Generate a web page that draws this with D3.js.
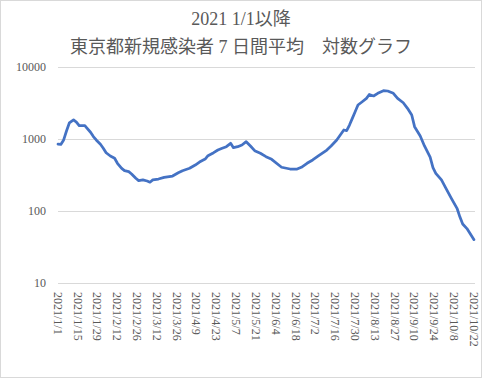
<!DOCTYPE html>
<html lang="ja">
<head>
<meta charset="UTF-8">
<script src="https://d3js.org/d3.v7.min.js"></script>
<style>
  body { margin: 0; background: #fff; }
  text { font-family: "Liberation Serif", "Noto Sans CJK JP", serif; fill: #595959; }
</style>
</head>
<body>
<div id="chart"></div>
<script>
// 7日間平均
const dates = ["2021-01-01","2021-01-03","2021-01-05","2021-01-07","2021-01-09","2021-01-12","2021-01-14","2021-01-16","2021-01-20","2021-01-21",
  "2021-01-24","2021-01-26","2021-01-28","2021-01-31","2021-02-02","2021-02-04","2021-02-07","2021-02-10","2021-02-12","2021-02-15",
  "2021-02-17","2021-02-20","2021-02-22","2021-02-25","2021-02-27","2021-03-02","2021-03-05","2021-03-07","2021-03-09","2021-03-13",
  "2021-03-17","2021-03-23","2021-03-27","2021-03-30","2021-04-04","2021-04-08","2021-04-11","2021-04-15","2021-04-17","2021-04-21",
  "2021-04-24","2021-04-27","2021-04-30","2021-05-03","2021-05-05","2021-05-08","2021-05-11","2021-05-14","2021-05-17","2021-05-20",
  "2021-05-24","2021-05-28","2021-06-01","2021-06-06","2021-06-08","2021-06-14","2021-06-19","2021-06-22","2021-06-26","2021-06-30",
  "2021-07-04","2021-07-10","2021-07-13","2021-07-17","2021-07-19","2021-07-22","2021-07-24","2021-07-26","2021-07-28","2021-07-30",
  "2021-08-01","2021-08-04","2021-08-07","2021-08-09","2021-08-12","2021-08-15","2021-08-19","2021-08-22","2021-08-26","2021-08-29",
  "2021-09-02","2021-09-05","2021-09-08","2021-09-10","2021-09-14","2021-09-17","2021-09-21","2021-09-23","2021-09-25","2021-09-29",
  "2021-10-02","2021-10-06","2021-10-10","2021-10-12","2021-10-14","2021-10-17","2021-10-20","2021-10-22"];
const cases = [850,840,970,1290,1670,1840,1720,1530,1530,1450,
  1240,1080,970,845,745,645,580,540,460,390,
  363,352,327,285,264,270,261,251,270,278,
  293,306,340,363,392,435,479,527,587,645,
  703,743,782,871,757,782,826,918,800,688,
  633,568,522,435,405,383,383,405,460,511,
  581,703,800,968,1100,1334,1310,1563,1935,2393,
  2966,3295,3671,4150,3960,4313,4688,4642,4313,3671,
  3190,2666,2154,1483,1100,800,560,400,334,270,
  210,150,109,83,66,57,46,40];
const yTicks = [10, 100, 1000, 10000];
const xTickLabels = ["2021/1/1","2021/1/15","2021/1/29","2021/2/12","2021/2/26","2021/3/12","2021/3/26","2021/4/9","2021/4/23",
  "2021/5/7","2021/5/21","2021/6/4","2021/6/18","2021/7/2","2021/7/16","2021/7/30","2021/8/13","2021/8/27","2021/9/10",
  "2021/9/24","2021/10/8","2021/10/22"];
const titleLines = ["2021 1/1以降", "東京都新規感染者 7 日間平均　対数グラフ"];

const W = 482, H = 378;
const parse = d3.timeParse("%Y-%m-%d");
const parseLabel = d3.timeParse("%Y/%m/%d");
const data = dates.map((d, i) => ({ date: parse(d), value: cases[i] }));

const svg = d3.select("#chart").append("svg")
  .attr("width", W).attr("height", H);

svg.append("rect")
  .attr("x", 0.5).attr("y", 0.5).attr("width", W - 1).attr("height", H - 1)
  .attr("fill", "#fff").attr("stroke", "#d9d9d9");

const x = d3.scaleTime()
  .domain([parse("2021-01-01"), parse("2021-10-22")])
  .range([58, 474]);
const y = d3.scaleLog()
  .domain([10, 10000])
  .range([283, 67]);

// title
svg.selectAll(".title")
  .data(titleLines)
  .enter().append("text")
  .attr("x", W / 2)
  .attr("y", (d, i) => 25 + i * 28)
  .attr("text-anchor", "middle")
  .style("font-size", "18px")
  .text(d => d);

// gridlines
svg.append("g").selectAll("line")
  .data(yTicks)
  .enter().append("line")
  .attr("x1", 58).attr("x2", 475)
  .attr("y1", d => Math.round(y(d)) + 0.5)
  .attr("y2", d => Math.round(y(d)) + 0.5)
  .attr("stroke", "#d9d9d9").attr("stroke-width", 1);

// y labels
svg.append("g").selectAll("text")
  .data(yTicks)
  .enter().append("text")
  .attr("x", 46)
  .attr("y", d => y(d))
  .attr("dy", "0.35em")
  .attr("text-anchor", "end")
  .style("font-size", "12px")
  .text(d => d);

// x labels (rotated)
svg.append("g").selectAll("text")
  .data(xTickLabels)
  .enter().append("text")
  .attr("transform", d => "translate(" + x(parseLabel(d)) + ",292) rotate(90)")
  .attr("dy", "0.35em")
  .style("font-size", "12px")
  .text(d => d);

// line
const line = d3.line()
  .x(d => x(d.date))
  .y(d => y(d.value));

svg.append("path")
  .datum(data)
  .attr("fill", "none")
  .attr("stroke", "#4472c4")
  .attr("stroke-width", 2.75)
  .attr("stroke-linejoin", "round")
  .attr("stroke-linecap", "round")
  .attr("d", line);
</script>
</body>
</html>
